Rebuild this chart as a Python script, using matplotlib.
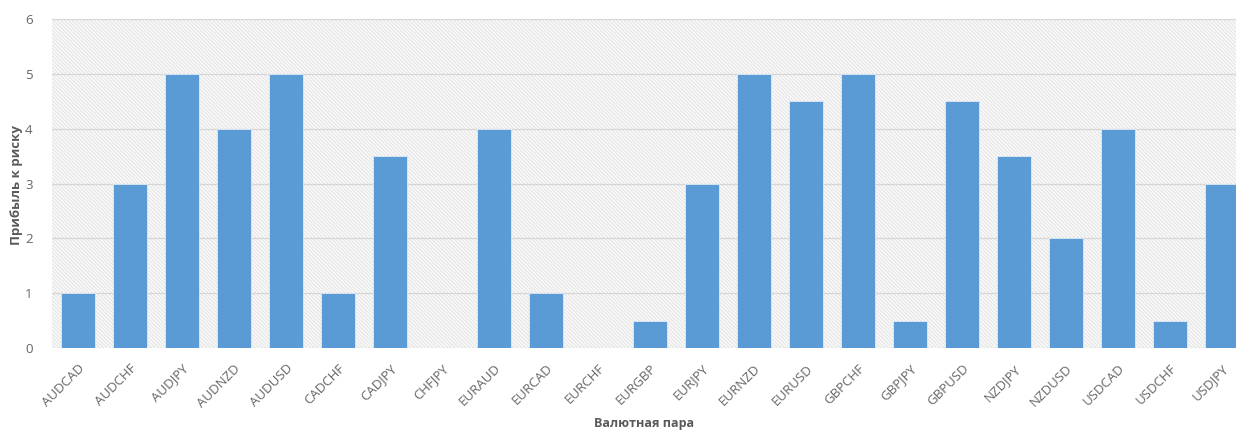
import matplotlib.pyplot as plt
from matplotlib.patches import Rectangle

pairs = ["AUDCAD", "AUDCHF", "AUDJPY", "AUDNZD", "AUDUSD", "CADCHF", "CADJPY",
         "CHFJPY", "EURAUD", "EURCAD", "EURCHF", "EURGBP", "EURJPY", "EURNZD",
         "EURUSD", "GBPCHF", "GBPJPY", "GBPUSD", "NZDJPY", "NZDUSD", "USDCAD",
         "USDCHF", "USDJPY"]
reward_risk = [1, 3, 5, 4, 5, 1, 3.5, 0, 4, 1, 0, 0.5, 3, 5, 4.5, 5, 0.5, 4.5,
               3.5, 2, 4, 0.5, 3]
y_ticks = [0, 1, 2, 3, 4, 5, 6]

plt.rcParams['font.family'] = ['Open Sans', 'DejaVu Sans']
plt.rcParams['hatch.color'] = '#E2E2E2'
plt.rcParams['hatch.linewidth'] = 0.7

fig = plt.figure(figsize=(12.36, 4.34), dpi=100)
ax = fig.add_axes([0.042, 0.198, 0.958, 0.758])

# hatched plot-area background
bg = Rectangle((0, 0), 1, 1, transform=ax.transAxes, facecolor='#FAFAFA',
               edgecolor='#E2E2E2', hatch='\\' * 9, linewidth=0, zorder=0)
ax.add_patch(bg)

x = list(range(len(pairs)))
ax.bar(x, reward_risk, width=0.64, color='#5B9BD5', edgecolor='#DDEBF7',
       linewidth=0.6, zorder=3)

ax.set_xlim(-0.5, 22.27)
ax.set_ylim(0, 6)
ax.set_yticks(y_ticks)
ax.yaxis.grid(True, color='#D6D6D6', linewidth=0.9, zorder=1)
ax.set_axisbelow(True)
for s in ax.spines.values():
    s.set_visible(False)
ax.tick_params(length=0, colors='#666666', labelsize=9.5)
ax.tick_params(axis='y', pad=14)
ax.set_xticks(x)
ax.set_xticklabels(pairs, rotation=45, ha='right', rotation_mode='anchor',
                   color='#666666', fontsize=9.5)
ax.tick_params(axis='x', pad=10)

fig.text(17 / 1236, 0.573, 'Прибыль к риску', rotation=90, ha='center',
         va='center', fontsize=9.5, fontweight='bold', color='#595959')
ax.set_xlabel('Валютная пара', fontsize=9, fontweight='bold', color='#595959',
              labelpad=5)

fig.savefig('out.png', dpi=100)
